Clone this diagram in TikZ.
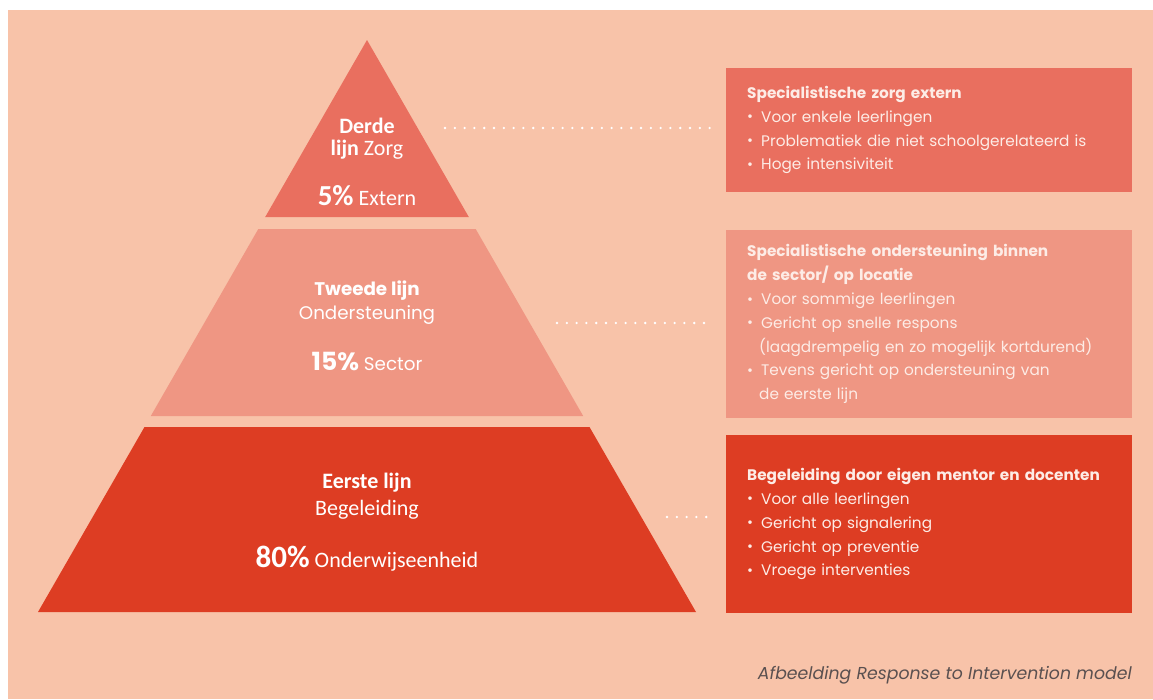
\documentclass[tikz,border=0pt]{standalone}
\usepackage{fontspec}
\setmainfont{Poppins}
\newfontfamily\calib{Carlito}
\definecolor{peach}{HTML}{F8C3A9}
\definecolor{topred}{HTML}{E96F5F}
\definecolor{midred}{HTML}{EF9683}
\definecolor{lowred}{HTML}{DD3D23}
\definecolor{softwhite}{HTML}{FDECE6}
\definecolor{capgray}{HTML}{5A5050}
\newcommand{\bul}{\makebox[14pt][l]{\raisebox{0.5pt}{\scalebox{0.95}{\textbullet}}}}
\newcommand{\cont}{\hspace*{12pt}}
\tikzset{
  lbl/.style={text=white,inner sep=0pt,anchor=base},
  calfont/.style={font=\calib\fontsize{22}{22}\selectfont},
  popfont/.style={font=\fontsize{18.3}{18}\selectfont},
  infobox/.style={fill=#1,text=softwhite,anchor=north west,align=left,
    text width=364pt,inner xsep=21pt,inner ysep=0pt,
    font=\fontsize{15.3}{23.8}\selectfont},
  dots/.style={white,line width=2.6pt,line cap=round,
    dash pattern=on 0pt off 9.8pt,shorten >=14pt}
}
\begin{document}
\begin{tikzpicture}[x=1pt,y=-1pt]
\fill[white](0,0)rectangle(1153,699);
\fill[peach](8,10)rectangle(1153,699);
\fill[topred](367,40)--(265.2,217)--(468.8,217)--cycle;
\fill[midred](258.3,229)--(475.7,229)--(583.2,416)--(150.8,416)--cycle;
\fill[lowred](144.5,427)--(589.5,427)--(696,612)--(38,612)--cycle;
\node[lbl,calfont](derde)at(367,133){\textbf{Derde}};
\node[lbl,calfont](zorg)at(367,155){\textbf{lijn} Zorg};
\node[lbl,calfont](extern)at(367,205){{\fontsize{29}{29}\selectfont\textbf{5\%}} Extern};
\node[lbl,popfont](tweede)at(367,295){\textbf{Tweede lijn}};
\node[lbl,popfont](onder)at(367,319){Ondersteuning};
\node[lbl,popfont](sector)at(367,370){{\fontsize{25}{25}\selectfont\textbf{15\%}} Sector};
\node[lbl,calfont](eerste)at(367,488){\textbf{Eerste lijn}};
\node[lbl,calfont](begel)at(367,515){Begeleiding};
\node[lbl,calfont](eenheid)at(367,567){{\fontsize{31}{31}\selectfont\textbf{80\%}} Onderwijseenheid};
\node[infobox=topred,minimum height=124pt](extbox)at(726,68){%
\textbf{Specialistische zorg extern}\\
\bul Voor enkele leerlingen\\
\bul Problematiek die niet schoolgerelateerd is\\
\bul Hoge intensiviteit};
\node[infobox=midred,minimum height=188pt](secbox)at(726,230){%
\textbf{Specialistische ondersteuning binnen}\\
\textbf{de sector/ op locatie}\\
\bul Voor sommige leerlingen\\
\bul Gericht op snelle respons\\
\cont(laagdrempelig en zo mogelijk kortdurend)\\
\bul Tevens gericht op ondersteuning van\\
\cont de eerste lijn};
\node[infobox=lowred,minimum height=178pt](begbox)at(726,435){%
\textbf{Begeleiding door eigen mentor en docenten}\\
\bul Voor alle leerlingen\\
\bul Gericht op signalering\\
\bul Gericht op preventie\\
\bul Vroege interventies};
\coordinate(d1)at(445,128);
\coordinate(d2)at(557,323);
\coordinate(d3)at(667,517);
\draw[dots](d1)--(extbox.west|-d1);
\draw[dots](d2)--(secbox.west|-d2);
\draw[dots](d3)--(begbox.west|-d3);
\node[anchor=base east,text=capgray,inner sep=0pt,font=\itshape\fontsize{17.3}{17}\selectfont](caption)at(1132,679){Afbeelding Response to Intervention model};
\end{tikzpicture}
\end{document}
